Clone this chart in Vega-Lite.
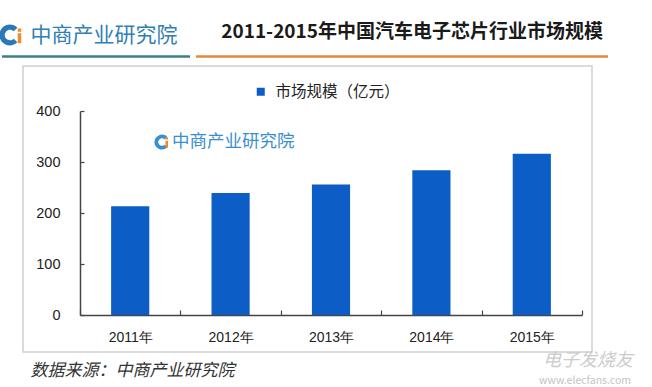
{
  "$schema": "https://vega.github.io/schema/vega-lite/v6.json",
  "width": 569,
  "height": 286,
  "autosize": {"type": "none"},
  "padding": {"left": 23, "top": 66, "right": 60, "bottom": 35},
  "background": "#ffffff",
  "config": {
    "font": "Noto Sans CJK SC",
    "view": {"stroke": "#cfcfcf", "strokeWidth": 1.5}
  },
  "title": {
    "text": "2011-2015年中国汽车电子芯片行业市场规模",
    "anchor": "end",
    "frame": "group",
    "fontSize": 19,
    "fontWeight": "bold",
    "color": "#1a1a1a",
    "font": "Noto Sans CJK SC",
    "dx": 11,
    "dy": 28,
    "offset": 10
  },
  "data": {
    "values": [
      {"year": "2011年", "value": 213, "series": "市场规模（亿元）"},
      {"year": "2012年", "value": 239, "series": "市场规模（亿元）"},
      {"year": "2013年", "value": 256, "series": "市场规模（亿元）"},
      {"year": "2014年", "value": 284, "series": "市场规模（亿元）"},
      {"year": "2015年", "value": 316, "series": "市场规模（亿元）"}
    ]
  },
  "layer": [
    {
      "mark": {"type": "bar", "width": {"band": 0.38}},
      "encoding": {
        "x": {
          "field": "year",
          "type": "nominal",
          "sort": null,
          "scale": {"range": [57, 559], "paddingInner": 0, "paddingOuter": 0},
          "axis": {
            "orient": "bottom",
            "offset": -37,
            "domainColor": "#444444",
            "domainWidth": 1.5,
            "tickBand": "extent",
            "tickSize": -5,
            "tickColor": "#444444",
            "tickWidth": 1.2,
            "labelAngle": 0,
            "labelFont": "Liberation Sans",
            "labelFontSize": 14,
            "labelPadding": 20,
            "labelColor": "#222222",
            "grid": false,
            "title": "数据来源：中商产业研究院",
            "titleX": 7,
            "titleY": 55,
            "titleAlign": "left",
            "titleAnchor": "start",
            "titleBaseline": "middle",
            "titleFontSize": 17,
            "titleFontStyle": "italic",
            "titleFontWeight": "normal",
            "titleColor": "#333333"
          }
        },
        "y": {
          "field": "value",
          "type": "quantitative",
          "scale": {"domain": [0, 400], "range": [249, 45], "nice": false},
          "axis": {
            "values": [0, 100, 200, 300, 400],
            "offset": -57,
            "domainColor": "#444444",
            "domainWidth": 1.5,
            "tickColor": "#444444",
            "tickSize": -4,
            "tickWidth": 1.2,
            "labelFont": "Liberation Sans",
            "labelFontSize": 14.5,
            "labelColor": "#222222",
            "labelPadding": 24,
            "grid": false,
            "title": "中商产业研究院",
            "titleAngle": 0,
            "titleAlign": "left",
            "titleBaseline": "middle",
            "titleX": -50,
            "titleY": -31,
            "titleFontSize": 21,
            "titleFontWeight": "normal",
            "titleColor": "#2f80b5"
          }
        },
        "color": {
          "field": "series",
          "type": "nominal",
          "scale": {"range": ["#0c5dc6"]},
          "legend": {
            "orient": "none",
            "legendX": 230,
            "legendY": 18,
            "title": null,
            "symbolType": "square",
            "symbolSize": 64,
            "symbolStrokeWidth": 0,
            "labelFontSize": 15.5,
            "labelColor": "#222222",
            "labelOffset": 7,
            "padding": 0
          }
        }
      }
    },
    {
      "data": {"values": [{}]},
      "mark": {"type": "rule", "color": "#3e7e8e", "strokeWidth": 2.5},
      "encoding": {
        "x": {"datum": "2011年", "bandPosition": -0.777},
        "x2": {"datum": "2011年", "bandPosition": 1.096},
        "y": {"datum": 507}
      }
    },
    {
      "data": {"values": [{}]},
      "mark": {"type": "rule", "color": "#e08a3c", "strokeWidth": 2.5},
      "encoding": {
        "x": {"datum": "2011年", "bandPosition": 1.155},
        "x2": {"datum": "2015年", "bandPosition": 1.259},
        "y": {"datum": 507}
      }
    },
    {
      "data": {"values": [{}]},
      "mark": {"type": "point", "shape": "M0.7,-0.7 A1,1 0 1,0 0.7,0.7 L0.35,0.35 A0.5,0.5 0 1,1 0.35,-0.35 Z", "filled": true, "color": "#2a78b8", "opacity": 1, "size": 441, "strokeWidth": 0},
      "encoding": {
        "x": {"datum": "2011年", "bandPosition": -0.697},
        "y": {"datum": 549}
      }
    },
    {
      "data": {"values": [{}]},
      "mark": {"type": "point", "shape": "M-0.22,-0.95 h0.44 v0.4 h-0.44 Z M-0.22,-0.35 h0.44 v1.25 h-0.44 Z", "filled": true, "color": "#f08a24", "opacity": 1, "size": 256, "strokeWidth": 0},
      "encoding": {
        "x": {"datum": "2011年", "bandPosition": -0.603},
        "y": {"datum": 547}
      }
    },
    {
      "data": {"values": [{}]},
      "mark": {"type": "point", "shape": "M0.7,-0.7 A1,1 0 1,0 0.7,0.7 L0.35,0.35 A0.5,0.5 0 1,1 0.35,-0.35 Z", "filled": true, "color": "#3a8fd0", "opacity": 1, "size": 225, "strokeWidth": 0},
      "encoding": {
        "x": {"datum": "2011年", "bandPosition": 0.817},
        "y": {"datum": 339}
      }
    },
    {
      "data": {"values": [{}]},
      "mark": {"type": "point", "shape": "M-0.22,-0.95 h0.44 v0.4 h-0.44 Z M-0.22,-0.35 h0.44 v1.25 h-0.44 Z", "filled": true, "color": "#f08a24", "opacity": 1, "size": 130, "strokeWidth": 0},
      "encoding": {
        "x": {"datum": "2011年", "bandPosition": 0.864},
        "y": {"datum": 338}
      }
    },
    {
      "data": {"values": [{}]},
      "mark": {"type": "text", "text": "中商产业研究院", "fontSize": 17.5, "color": "#3a8fd0", "align": "left", "baseline": "middle"},
      "encoding": {
        "x": {"datum": "2011年", "bandPosition": 0.916},
        "y": {"datum": 339}
      }
    },
    {
      "data": {"values": [{}]},
      "mark": {"type": "text", "text": "电子发烧友", "fontSize": 18, "fontStyle": "italic", "color": "#cccccc", "align": "center", "baseline": "middle"},
      "encoding": {
        "x": {"datum": "2015年", "bandPosition": 1.06},
        "y": {"datum": -90.5}
      }
    },
    {
      "data": {"values": [{}]},
      "mark": {"type": "text", "text": "www.elecfans.com", "fontSize": 10.5, "color": "#c4c4c4", "align": "center", "baseline": "middle"},
      "encoding": {
        "x": {"datum": "2015年", "bandPosition": 1.03},
        "y": {"datum": -128.5}
      }
    }
  ]
}
